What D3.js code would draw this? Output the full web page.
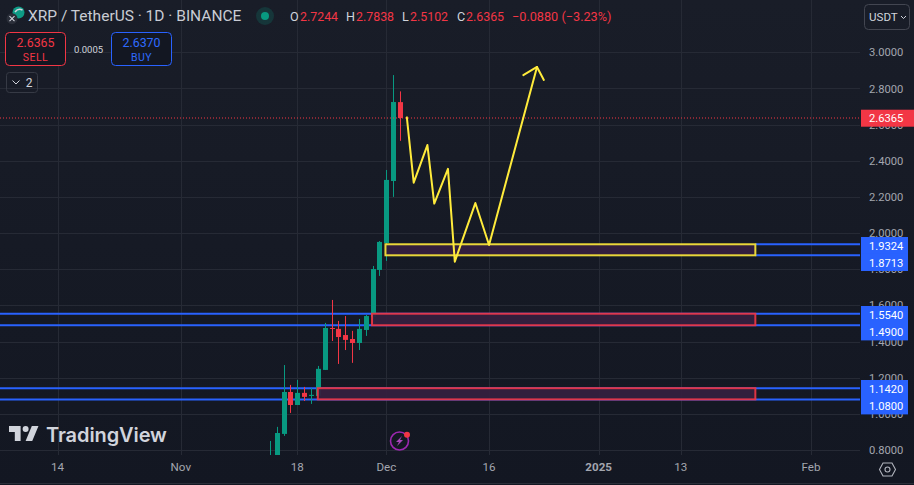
<!DOCTYPE html>
<html><head><meta charset="utf-8">
<script src="https://cdnjs.cloudflare.com/ajax/libs/d3/7.8.5/d3.min.js"></script>
<style>html,body{margin:0;padding:0;background:#131722;overflow:hidden}svg{display:block}text{font-family:Roboto,"Liberation Sans",sans-serif}</style>
</head><body><svg id="c" width="914" height="485"></svg>
<script>
const dates=["2024-11-14","2024-11-15","2024-11-16","2024-11-17","2024-11-18","2024-11-19","2024-11-20","2024-11-21","2024-11-22","2024-11-23","2024-11-24","2024-11-25","2024-11-26","2024-11-27","2024-11-28","2024-11-29","2024-11-30","2024-12-01","2024-12-02","2024-12-03"];
const opens=[0.72,0.76,0.889,1.121,1.049,1.116,1.099,1.099,1.243,1.475,1.470,1.436,1.414,1.392,1.464,1.536,1.796,1.945,2.288,2.7244];
const closes=[0.755,0.894,1.121,1.049,1.116,1.094,1.105,1.249,1.475,1.470,1.425,1.409,1.392,1.470,1.541,1.801,1.951,2.294,2.725,2.6365];
const highs=[0.850,0.928,1.270,1.160,1.188,1.149,1.143,1.265,1.503,1.630,1.514,1.541,1.459,1.525,1.547,1.818,1.956,2.349,2.874,2.7838];
const lows=[0.71,0.74,0.878,1.005,1.049,1.071,1.055,1.082,1.243,1.403,1.276,1.353,1.282,1.353,1.431,1.525,1.763,1.846,2.200,2.5102];
const priceTicks=[0.8,1.0,1.2,1.4,1.6,1.8,2.0,2.2,2.4,2.6,2.8,3.0];
const timeTickDates=["2024-10-14","2024-11-01","2024-11-18","2024-12-01","2024-12-16","2025-01-01","2025-01-13","2025-02-01"];
const timeTickLabels=["14","Nov","18","Dec","16","2025","13","Feb"];
const projDates=["2024-12-04","2024-12-05","2024-12-07","2024-12-08","2024-12-10","2024-12-11","2024-12-14","2024-12-16","2024-12-23"];
const projValues=[2.640,2.279,2.487,2.163,2.355,1.842,2.166,1.934,2.919];
const arrowDates=["2024-12-21","2024-12-23","2024-12-24"];
const arrowValues=[2.874,2.919,2.847];
const levels=[1.938,1.877,1.554,1.49,1.142,1.08];
const levelLabels=["1.9324","1.8713","1.5540","1.4900","1.1420","1.0800"];
const zoneStarts=["2024-11-30T21:00Z","2024-11-28T22:00Z","2024-11-21T00:00Z"];
const zoneEnd="2025-01-23T21:00Z";
const zoneTop=[1.938,1.554,1.142];
const zoneBottom=[1.877,1.49,1.08];
const lastClose=2.6365;

const svg=d3.select("#c");
const W=914,H=485,paneR=860,paneB=455;
const x=d3.scaleUtc().domain([new Date("2024-10-14"),new Date("2025-02-01")]).range([57.5,811]);
const y=d3.scaleLinear().domain([0.8,3.0]).range([450,52.3]);
const GREEN="#089981",RED="#f23645",BLUE="#2962ff",YEL="#ffeb3b";
const dt=s=>new Date(s);
const defs=svg.append("defs");
const g=defs.append("linearGradient").attr("id","bg").attr("x1",0).attr("x2",0).attr("y1",0).attr("y2",1);
g.append("stop").attr("offset",0).attr("stop-color","#191d28");
g.append("stop").attr("offset",1).attr("stop-color","#131722");
defs.append("clipPath").attr("id","pane").append("rect").attr("width",paneR).attr("height",paneB);
svg.append("rect").attr("width",W).attr("height",H).attr("fill","url(#bg)");

// grid
const grid=svg.append("g").attr("stroke","#262a35").attr("stroke-width",1);
grid.selectAll(".h").data(priceTicks).join("line").attr("x1",0).attr("x2",paneR)
  .attr("y1",d=>Math.round(y(d))+.5).attr("y2",d=>Math.round(y(d))+.5);
grid.selectAll(".v").data(timeTickDates).join("line").attr("y1",0).attr("y2",paneB)
  .attr("x1",d=>Math.round(x(dt(d)))+.5).attr("x2",d=>Math.round(x(dt(d)))+.5);

// axis labels
const pa=d3.axisRight(y).tickValues(priceTicks).tickFormat(d3.format(".4f")).tickSize(0).tickPadding(0);
const pg=svg.append("g").attr("transform","translate(869,0)").call(pa);
pg.select(".domain").remove();
pg.selectAll("text").attr("fill","#a3a6af").attr("font-size",11.2);
const ta=d3.axisBottom(x).tickValues(timeTickDates.map(dt)).tickFormat((d,i)=>timeTickLabels[i]).tickSize(0).tickPadding(0);
const tg=svg.append("g").attr("transform","translate(-.5,463)").call(ta);
tg.select(".domain").remove();
tg.selectAll("text").attr("fill","#a3a6af").attr("font-size",11.6)
  .attr("font-weight",(d,i)=>timeTickLabels[i]==="2025"?700:400);

const pane=svg.append("g").attr("clip-path","url(#pane)");
// level lines
pane.selectAll(".lvl").data(levels).join("line")
  .attr("x1",(d,i)=>i<2?x(dt(zoneEnd)):0).attr("x2",paneR)
  .attr("y1",d=>y(d)).attr("y2",d=>y(d))
  .attr("stroke",BLUE).attr("stroke-width",2);
// candles
const rows=dates.map((d,i)=>({d:dt(d),o:opens[i],c:closes[i],h:highs[i],l:lows[i]}));
const col=r=>r.c>=r.o?GREEN:RED;
pane.selectAll(".w").data(rows).join("line")
  .attr("x1",r=>Math.round(x(r.d))+.5).attr("x2",r=>Math.round(x(r.d))+.5)
  .attr("y1",r=>y(r.h)).attr("y2",r=>y(r.l)).attr("stroke",col).attr("stroke-width",1);
pane.selectAll(".b").data(rows).join("rect")
  .attr("x",r=>Math.round(x(r.d))-2).attr("width",5)
  .attr("y",r=>y(Math.max(r.o,r.c))).attr("height",r=>Math.max(1,Math.abs(y(r.o)-y(r.c))))
  .attr("fill",col);
// zones
const zones=zoneStarts.map((s,i)=>({s:dt(s),t:zoneTop[i],b:zoneBottom[i],col:i===0?YEL:RED}));
pane.selectAll(".z").data(zones).join("rect")
  .attr("x",z=>x(z.s)).attr("width",z=>x(dt(zoneEnd))-x(z.s))
  .attr("y",z=>y(z.t)).attr("height",z=>y(z.b)-y(z.t))
  .attr("fill","#35203f").attr("fill-opacity",.95).attr("stroke",z=>z.col).attr("stroke-opacity",.9).attr("stroke-width",2);
// price line
pane.append("line").attr("x1",0).attr("x2",paneR).attr("y1",y(lastClose)).attr("y2",y(lastClose))
  .attr("stroke",RED).attr("stroke-width",1).attr("stroke-dasharray","1 2");
// projection
const ln=d3.line().x(d=>x(dt(d[0]))).y(d=>y(d[1]));
const proj=svg.append("g").attr("fill","none").attr("stroke",YEL).attr("stroke-width",2).attr("stroke-linejoin","round").attr("stroke-linecap","round");
proj.append("path").attr("d",ln(projDates.map((d,i)=>[d,projValues[i]])));
proj.append("path").attr("d",ln(arrowDates.map((d,i)=>[d,arrowValues[i]])));

// tags
const tag=svg.append("g");
tag.selectAll(".t").data(levels).join("rect").attr("x",861).attr("width",47).attr("height",17.4)
  .attr("y",(d,i)=>[237,253.6,306,323,380,397][i]).attr("fill",BLUE);
tag.selectAll(".tt").data(levelLabels).join("text").attr("x",869)
  .attr("y",(d,i)=>[246,262.6,315,332,389,406][i]).attr("dy",".35em")
  .attr("fill","#fff").attr("font-size",11.2).text(d=>d);
tag.append("rect").attr("x",861).attr("y",y(lastClose)-8.3).attr("width",53).attr("height",17).attr("fill",RED);
tag.append("text").attr("x",869).attr("y",y(lastClose)+.3).attr("dy",".35em").attr("fill","#fff").attr("font-size",11.2).text(d3.format(".4f")(lastClose));

// header
const tx=(s,xx,yy,o={})=>{const t=svg.append("text").attr("x",xx).attr("y",yy).attr("dy",".35em").text(s)
  .attr("fill",o.f||"#d1d4dc").attr("font-size",o.s||12).attr("text-anchor",o.a||"start");if(o.w)t.attr("font-weight",o.w);if(o.ls)t.attr("letter-spacing",o.ls);return t;};
// symbol icon
svg.append("circle").attr("cx",18.5).attr("cy",12.5).attr("r",6).attr("fill","#0e9b86");
svg.append("path").attr("d","M15 12q3-4 7.5-2").attr("stroke","#d1d4dc").attr("stroke-width",1.5).attr("fill","none");
svg.append("circle").attr("cx",12).attr("cy",18.7).attr("r",5.5).attr("fill","#2a2e39");
svg.append("path").attr("d","M9.5 16.2l5 5M14.5 16.2l-5 5").attr("stroke","#d1d4dc").attr("stroke-width",1.1);
tx("XRP / TetherUS · 1D · BINANCE",28,16,{s:15.5,f:"#c9ccd4"});
svg.append("circle").attr("cx",265).attr("cy",16).attr("r",9).attr("fill","#089981").attr("opacity",.2);
svg.append("circle").attr("cx",265).attr("cy",16).attr("r",4).attr("fill","#089981");
const pairs=[["O",290],["H",346],["L",402],["C",457]];
pairs.forEach(p=>tx(p[0],p[1],16.5,{s:12.6}));
[["2.7244",300],["2.7838",356],["2.5102",410],["2.6365",466]].forEach(p=>tx(p[0],p[1],16.5,{s:12.4,f:RED}));
tx("−0.0880 (−3.23%)",512,16.5,{s:12.7,f:RED});
// sell/buy
const box=(xx,yy,w,h,c,r=4)=>svg.append("rect").attr("x",xx).attr("y",yy).attr("width",w).attr("height",h).attr("rx",r).attr("fill","#131722").attr("stroke",c);
box(5.5,32.5,60,33,RED);
tx("2.6365",35.5,43,{s:12.4,f:RED,a:"middle"});tx("SELL",35.5,57,{s:10.5,f:RED,a:"middle",ls:.5});
box(111.5,32.5,60,33,BLUE);
tx("2.6370",141.5,43,{s:12.4,f:"#2f6bff",a:"middle"});tx("BUY",141.5,57,{s:10.5,f:"#2f6bff",a:"middle",ls:.5});
tx("0.0005",88.5,50,{s:9.5,a:"middle"});
box(6.5,72.5,31,20,"#363a45",3).attr("fill","none");
svg.append("path").attr("d","M12.5 80.5l3.5 3.5l3.5-3.5").attr("stroke","#d1d4dc").attr("fill","none");
tx("2",29,83,{s:12,a:"middle"});
box(864.5,4.5,45,25,"#434651",4).attr("fill","none");
tx("USDT",869,17,{s:11.6});
svg.append("path").attr("d","M901 16l2.5 2.5l2.5-2.5").attr("stroke","#d1d4dc").attr("fill","none");

// logo
svg.append("path").attr("transform","translate(9,422.8) scale(.83)")
  .attr("d","M14 22H7V11H0V4h14v18zM28 22h-8l7.5-18h8L28 22z").attr("fill","#d1d4dc");
svg.append("circle").attr("cx",25.6).attr("cy",429).attr("r",3).attr("fill","#d1d4dc");
tx("TradingView",46,434.5,{s:20,w:600,f:"#d1d4dc",ls:-.1}).style("font-family","Inter,Roboto,sans-serif");

// lightning
svg.append("circle").attr("cx",399.5).attr("cy",441).attr("r",9).attr("fill","none").attr("stroke","#9c27b0").attr("stroke-width",1.6);
svg.append("path").attr("d","M402 436l-6 6h3l-2 4l6-6h-3z").attr("fill","#ab47bc");
svg.append("circle").attr("cx",407).attr("cy",434.7).attr("r",3).attr("fill",RED);
// gear
svg.append("path").attr("d","M883 463h9l3.5 6.5l-3.5 6.5h-9l-3.5-6.5z").attr("fill","none").attr("stroke","#b2b5be").attr("stroke-width",1.1);
svg.append("circle").attr("cx",887.5).attr("cy",469.5).attr("r",2.5).attr("fill","none").attr("stroke","#b2b5be").attr("stroke-width",1.1);
// bottom line
svg.append("line").attr("x1",0).attr("x2",W).attr("y1",483.5).attr("y2",483.5).attr("stroke","#2a2e39");
</script></body></html>
